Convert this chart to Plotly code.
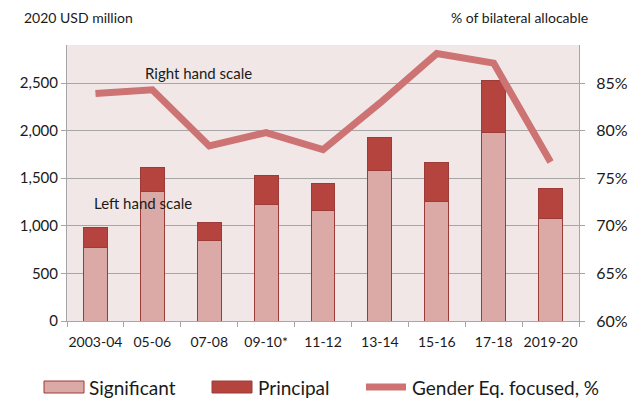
import plotly.graph_objects as go

periods = ["2003-04", "05-06", "07-08", "09-10*", "11-12", "13-14", "15-16", "17-18", "2019-20"]
significant = [770, 1365, 848, 1229, 1166, 1579, 1260, 1978, 1079]
principal = [217, 253, 185, 305, 280, 351, 407, 553, 311]
gender_pct = [83.9, 84.3, 78.4, 79.8, 78.0, 82.9, 88.1, 87.1, 76.7]

left_ticks = [0, 500, 1000, 1500, 2000, 2500]
right_ticks = [60, 65, 70, 75, 80, 85]

FONT = "Lato, Carlito, Calibri, sans-serif"
SIG_FILL = "#dba9a6"
PRI_FILL = "#b5443f"
EDGE = "#9c3b38"
LINE = "#cd7373"
GRID = "#a6a6a6"

# plot area in pixels: left 67, right 579, top 45, bottom 321
PL, PW, PT, PH = 67, 512, 45, 276


def px_x(p):
    return (p - PL) / PW


def px_y(p):
    return 1 - (p - PT) / PH


fig = go.Figure()
fig.add_trace(go.Bar(x=periods, y=significant, name="Significant",
                     marker=dict(color=SIG_FILL, line=dict(color=EDGE, width=1)),
                     showlegend=False))
fig.add_trace(go.Bar(x=periods, y=principal, name="Principal",
                     marker=dict(color=PRI_FILL, line=dict(color=EDGE, width=1)),
                     showlegend=False))
fig.add_trace(go.Scatter(x=periods, y=gender_pct, name="Gender Eq. focused, %",
                         yaxis="y2", mode="lines",
                         line=dict(color=LINE, width=7), showlegend=False))

fig.update_layout(
    width=634, height=401,
    margin=dict(l=PL, r=634 - PL - PW, t=PT, b=401 - PT - PH),
    barmode="stack", bargap=0.58,
    paper_bgcolor="white", plot_bgcolor="#f2e7e7",
    font=dict(family=FONT, size=15, color="#1a1a1a"),
    xaxis=dict(type="category", showline=True, linecolor=GRID, linewidth=1,
               ticks="outside", ticklen=5, tickcolor=GRID,
               tickson="boundaries", showgrid=False, tickangle=0,
               automargin=False, ticklabelstandoff=8, tickfont=dict(size=14)),
    yaxis=dict(range=[0, 2900], tickvals=left_ticks,
               ticktext=[f"{v:,}" for v in left_ticks],
               showline=True, linecolor=GRID, linewidth=1,
               ticks="outside", ticklen=5, tickcolor=GRID,
               showgrid=True, gridcolor=GRID, gridwidth=1, automargin=False,
               zeroline=False, ticklabelstandoff=0, tickfont=dict(size=15)),
    yaxis2=dict(range=[60, 89], tickvals=right_ticks,
                ticktext=[f"{v}%" for v in right_ticks],
                overlaying="y", side="right",
                showline=True, linecolor=GRID, linewidth=1,
                ticks="outside", ticklen=5, tickcolor=GRID, automargin=False,
                showgrid=False, zeroline=False, ticklabelstandoff=8,
                tickfont=dict(size=16)),
)

# axis titles and scale notes
notes = [
    ("2020 USD million", 22, 17, "left", 14),
    ("% of bilateral allocable", 590, 17, "right", 14),
    ("Right hand scale", 143, 73, "left", 15),
    ("Left hand scale", 92, 203, "left", 15),
]
for text, x, y, anchor, size in notes:
    fig.add_annotation(text=text, xref="paper", yref="paper",
                       x=px_x(x), y=px_y(y), xanchor=anchor, yanchor="middle",
                       showarrow=False, font=dict(size=size))

# legend row under the axis
legend_y = 387
fig.add_shape(type="rect", xref="paper", yref="paper",
              x0=px_x(44), x1=px_x(84), y0=px_y(legend_y - 6), y1=px_y(legend_y + 6),
              fillcolor=SIG_FILL, line=dict(color=EDGE, width=1))
fig.add_shape(type="rect", xref="paper", yref="paper",
              x0=px_x(212), x1=px_x(252), y0=px_y(legend_y - 6), y1=px_y(legend_y + 6),
              fillcolor=PRI_FILL, line=dict(color=EDGE, width=1))
fig.add_shape(type="line", xref="paper", yref="paper",
              x0=px_x(366), x1=px_x(406), y0=px_y(legend_y), y1=px_y(legend_y),
              line=dict(color=LINE, width=7))
for label, x0 in [("Significant", 87), ("Principal", 256), ("Gender Eq. focused, %", 410)]:
    fig.add_annotation(text=label, xref="paper", yref="paper",
                       x=px_x(x0), y=px_y(legend_y), xanchor="left", yanchor="middle",
                       showarrow=False, font=dict(size=19))

fig.write_html("out.html")
